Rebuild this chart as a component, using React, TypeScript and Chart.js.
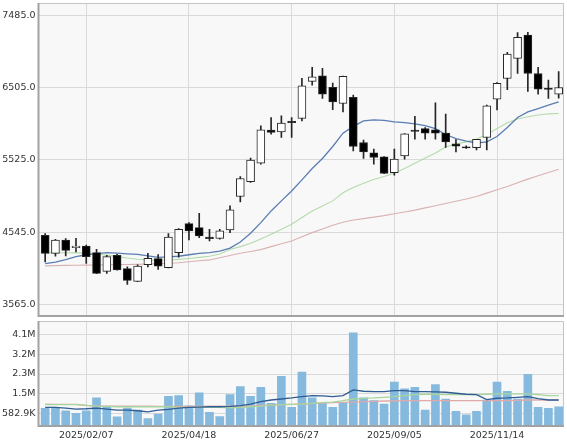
import React, { useEffect, useRef } from 'react';
import { Chart, registerables } from 'chart.js';

Chart.register(...registerables);

// ---- data ----
const dates = [
  '2025/01/10', '2025/01/17', '2025/01/24', '2025/01/31',
  '2025/02/07', '2025/02/14', '2025/02/21', '2025/02/28',
  '2025/03/07', '2025/03/14', '2025/03/21', '2025/03/28',
  '2025/04/04', '2025/04/11', '2025/04/18', '2025/04/25',
  '2025/05/02', '2025/05/09', '2025/05/16', '2025/05/23', '2025/05/30',
  '2025/06/06', '2025/06/13', '2025/06/20', '2025/06/27',
  '2025/07/04', '2025/07/11', '2025/07/18', '2025/07/25',
  '2025/08/01', '2025/08/08', '2025/08/15', '2025/08/22', '2025/08/29',
  '2025/09/05', '2025/09/12', '2025/09/19', '2025/09/26',
  '2025/10/03', '2025/10/10', '2025/10/17', '2025/10/24', '2025/10/31',
  '2025/11/07', '2025/11/14', '2025/11/21', '2025/11/28',
  '2025/12/05', '2025/12/12', '2025/12/19', '2025/12/26',
];

const labelIndices = [4, 14, 24, 34, 44];

const opens = [
  4504, 4259, 4440, 4336, 4359, 4268, 4015, 4232, 4051, 3879,
  4105, 4187, 4065, 4268, 4662, 4607, 4478, 4463, 4576, 5029,
  5232, 5481, 5929, 5906, 6048, 6087, 6589, 6666, 6508, 6290,
  6372, 5761, 5621, 5567, 5354, 5580, 5930, 5951, 5933, 5888,
  5745, 5702, 5693, 5829, 6349, 6629, 6901, 7217, 6697, 6500,
  6417,
];
const highs = [
  4526, 4449, 4458, 4463, 4372, 4314, 4232, 4246, 4078, 4105,
  4259, 4241, 4526, 4594, 4675, 4802, 4585, 4585, 4902, 5300,
  5549, 5987, 6100, 6123, 6100, 6630, 6779, 6765, 6566, 6662,
  6403, 5793, 5671, 5570, 5671, 5882, 6115, 5965, 6300, 6146,
  5800, 5715, 5806, 6268, 6575, 6982, 7250, 7254, 6779, 6607,
  6724,
];
const lows = [
  4142, 4220, 4223, 4277, 4124, 3985, 3988, 4030, 3839, 3876,
  4074, 4042, 4062, 4209, 4440, 4472, 4427, 4450, 4540, 4956,
  5219, 5467, 5874, 5829, 5829, 6055, 6539, 6358, 6205, 6177,
  5648, 5544, 5467, 5338, 5318, 5535, 5806, 5806, 5806, 5694,
  5635, 5680, 5661, 5661, 6204, 6476, 6697, 6453, 6417, 6358,
  6363,
];
const closes = [
  4259, 4440, 4300, 4359, 4214, 3988, 4214, 4033, 3893, 4087,
  4191, 4087, 4481, 4585, 4562, 4494, 4458, 4563, 4848, 5273,
  5522, 5933, 5897, 6024, 6030, 6530, 6652, 6417, 6313, 6657,
  5707, 5635, 5558, 5341, 5535, 5879, 5912, 5888, 5888, 5770,
  5712, 5688, 5806, 6259, 6562, 6960, 7186, 6697, 6485, 6482,
  6507,
];

const priceMaShort = [
  4120, 4140, 4175, 4215, 4240, 4255, 4268, 4262, 4252, 4245,
  4225, 4205, 4210, 4220, 4240, 4259, 4268, 4290, 4330, 4413,
  4531, 4676, 4834, 4970, 5105, 5255, 5408, 5544, 5707, 5888,
  5980, 6055, 6069, 6060, 6040, 6030, 6015, 5990, 5950, 5870,
  5815, 5780, 5755, 5770, 5842, 5965, 6100, 6177, 6222, 6268,
  6313,
];
const priceMaMid = [
  4265, 4268, 4268, 4265, 4262, 4250, 4235, 4215, 4195, 4180,
  4170, 4165, 4168, 4178, 4190, 4205, 4220, 4250, 4310, 4350,
  4395, 4455, 4517, 4585, 4653, 4745, 4834, 4900, 4970, 5080,
  5150, 5210, 5260, 5300, 5345, 5410, 5480, 5550, 5620, 5700,
  5740, 5770, 5810, 5870, 5950, 6030, 6080, 6110, 6135, 6150,
  6155,
];
const priceMaLong = [
  4090, 4093, 4096, 4098, 4100, 4102, 4104, 4106, 4108, 4110,
  4115, 4120, 4125, 4132, 4145, 4158, 4170, 4200, 4230, 4260,
  4285, 4310, 4350, 4390, 4427, 4485, 4540, 4590, 4640, 4680,
  4710, 4730, 4750, 4770, 4795, 4820, 4845, 4875, 4905, 4935,
  4965, 4995, 5030, 5075, 5120, 5165, 5215, 5265, 5310, 5355,
  5400,
];

const volumes = [
  792000, 838000, 687000, 566000, 687000, 1265000, 838000, 414000, 808000, 717000,
  338000, 535000, 1338000, 1368000, 914000, 1490000, 611000, 429000, 1414000, 1778000,
  1338000, 1747000, 1020000, 2233000, 838000, 2430000, 1265000, 1020000, 838000, 1020000,
  4204000, 1265000, 1143000, 990000, 1975000, 1672000, 1747000, 717000, 1869000, 1217000,
  656000, 505000, 656000, 1171000, 1975000, 1566000, 1217000, 2324000, 838000, 792000,
  868000,
];
const volumeMaShort = [
  838000, 838000, 808000, 762000, 777000, 808000, 762000, 717000, 717000, 687000,
  641000, 717000, 747000, 808000, 838000, 853000, 868000, 868000, 884000, 914000,
  990000, 1096000, 1171000, 1217000, 1263000, 1323000, 1369000, 1354000, 1323000, 1369000,
  1627000, 1566000, 1551000, 1551000, 1596000, 1596000, 1551000, 1551000, 1536000, 1521000,
  1475000, 1430000, 1410000, 1190000, 1250000, 1263000, 1290000, 1323000, 1230000, 1171000,
  1171000,
];
const volumeMaMid = [
  959000, 959000, 959000, 959000, 929000, 899000, 884000, 868000, 868000, 868000,
  868000, 868000, 868000, 838000, 838000, 838000, 838000, 838000, 823000, 838000,
  868000, 899000, 944000, 959000, 975000, 990000, 1020000, 1050000, 1080000, 1141000,
  1217000, 1247000, 1263000, 1293000, 1323000, 1369000, 1414000, 1430000, 1430000, 1414000,
  1414000, 1414000, 1414000, 1430000, 1445000, 1445000, 1445000, 1445000, 1414000, 1369000,
  1369000,
];
const volumeMaLong = [
  990000, 975000, 975000, 975000, 929000, 899000, 899000, 899000, 899000, 899000,
  899000, 884000, 884000, 884000, 884000, 884000, 899000, 899000, 899000, 899000,
  899000, 929000, 944000, 959000, 975000, 990000, 1005000, 1035000, 1050000, 1065000,
  1080000, 1095000, 1110000, 1126000, 1126000, 1141000, 1141000, 1141000, 1141000, 1141000,
  1141000, 1141000, 1141000, 1141000, 1141000, 1141000, 1156000, 1171000, 1171000, 1171000,
  1171000,
];

const priceTicks = [3565, 4545, 5525, 6505, 7485];
const volumeTicks = [582900, 1462500, 2342100, 3221700, 4101300];

// ---- styling ----
const FONT = { family: '"DejaVu Sans", Verdana, sans-serif', size: 9.5 };
const GRID = '#d9d9d9';
const TEXT = '#333333';
const X_MIN = -0.65;
const X_MAX = 50.52;

const framePlugin = {
  id: 'frame',
  beforeDraw(chart: any) {
    const { ctx, chartArea: a } = chart;
    ctx.save();
    ctx.fillStyle = '#f8f8f8';
    ctx.fillRect(a.left, a.top, a.right - a.left, a.bottom - a.top);
    ctx.restore();
  },
  afterDraw(chart: any) {
    const { ctx, chartArea: a } = chart;
    ctx.save();
    ctx.strokeStyle = '#c4c4c4';
    ctx.lineWidth = 1;
    ctx.beginPath();
    ctx.moveTo(a.left, a.top + 0.5);
    ctx.lineTo(a.right - 0.5, a.top + 0.5);
    ctx.lineTo(a.right - 0.5, a.bottom);
    ctx.stroke();
    ctx.strokeStyle = '#a2a2a2';
    ctx.lineWidth = 2;
    ctx.beginPath();
    ctx.moveTo(a.left, a.top);
    ctx.lineTo(a.left, a.bottom);
    ctx.lineTo(a.right, a.bottom);
    ctx.stroke();
    ctx.restore();
  },
};

const zeroPad = (s: any) => {
  s.paddingTop = 0;
  s.paddingBottom = 0;
  s.paddingLeft = 0;
  s.paddingRight = 0;
};

const toXY = (arr: number[]) => arr.map((y, x) => ({ x, y }));

function lineDs(data: number[], color: string, width: number) {
  return {
    type: 'line' as const,
    data: toXY(data),
    borderColor: color,
    borderWidth: width,
    pointRadius: 0,
    tension: 0,
    order: 5,
  };
}

function xAxis(showLabels: boolean) {
  return {
    type: 'linear' as const,
    min: X_MIN,
    max: X_MAX,
    offset: false,
    afterBuildTicks: (s: any) => {
      s.ticks = labelIndices.map((v) => ({ value: v }));
    },
    afterFit: (s: any) => {
      s.height = showLabels ? 16 : 0;
      zeroPad(s);
    },
    ticks: {
      display: showLabels,
      autoSkip: false,
      maxRotation: 0,
      color: TEXT,
      font: FONT,
      padding: 4,
      callback: (v: any) => dates[Number(v)] ?? '',
    },
    grid: { color: GRID, drawTicks: false, offset: false },
    border: { display: false },
  };
}

function yAxis(min: number, max: number, ticks: number[], fmt: (v: number) => string) {
  return {
    min,
    max,
    afterBuildTicks: (s: any) => {
      s.ticks = ticks.map((v) => ({ value: v }));
    },
    afterFit: (s: any) => {
      s.width = 38.5;
      zeroPad(s);
    },
    ticks: {
      color: TEXT,
      font: FONT,
      padding: 3,
      callback: (v: any) => fmt(Number(v)),
    },
    grid: { color: GRID, drawTicks: false },
    border: { display: false },
  };
}

function PriceChart() {
  const ref = useRef<HTMLCanvasElement>(null);
  useEffect(() => {
    const chart = new Chart(ref.current as HTMLCanvasElement, {
      type: 'bar',
      data: {
        datasets: [
          lineDs(priceMaShort, '#5a7db3', 1.3),
          lineDs(priceMaMid, '#b3dcaa', 1.1),
          lineDs(priceMaLong, '#dab2b2', 1.1),
          {
            type: 'bar',
            data: lows.map((l, i) => ({ x: i, y: [l, highs[i]] })),
            backgroundColor: '#262626',
            barThickness: 1,
            grouped: false,
            order: 2,
          } as any,
          {
            type: 'bar',
            data: opens.map((o, i) => ({ x: i, y: [o, closes[i]] })),
            backgroundColor: closes.map((c, i) => (c >= opens[i] ? '#ffffff' : '#000000')),
            borderColor: '#262626',
            borderWidth: 1,
            borderSkipped: false,
            barThickness: 8,
            grouped: false,
            order: 1,
          } as any,
        ],
      },
      options: {
        animation: false,
        responsive: false,
        devicePixelRatio: 1,
        layout: { padding: { top: 3, right: 3, bottom: 2, left: 0 } },
        plugins: { legend: { display: false }, tooltip: { enabled: false } },
        scales: {
          x: xAxis(false) as any,
          y: yAxis(3410, 7652, priceTicks, (v) => v.toFixed(1)) as any,
        },
      },
      plugins: [framePlugin],
    });
    return () => chart.destroy();
  }, []);
  return <canvas ref={ref} width={567} height={318} style={{ display: 'block' }} />;
}

function fmtVolume(v: number) {
  return v >= 1e6 ? (v / 1e6).toFixed(1) + 'M' : (v / 1e3).toFixed(1) + 'K';
}

function VolumeChart() {
  const ref = useRef<HTMLCanvasElement>(null);
  useEffect(() => {
    const chart = new Chart(ref.current as HTMLCanvasElement, {
      type: 'bar',
      data: {
        datasets: [
          lineDs(volumeMaShort, '#2f5d94', 1.3),
          lineDs(volumeMaMid, '#a6d59d', 1.3),
          lineDs(volumeMaLong, '#e0a9a9', 1.3),
          {
            type: 'bar',
            data: toXY(volumes),
            backgroundColor: '#85b9de',
            barThickness: 8,
            grouped: false,
            order: 6,
          } as any,
        ],
      },
      options: {
        animation: false,
        responsive: false,
        devicePixelRatio: 1,
        layout: { padding: { top: 3, right: 3, bottom: 0, left: 0 } },
        plugins: { legend: { display: false }, tooltip: { enabled: false } },
        scales: {
          x: xAxis(true) as any,
          y: yAxis(0, 4732000, volumeTicks, fmtVolume) as any,
        },
      },
      plugins: [framePlugin],
    });
    return () => chart.destroy();
  }, []);
  return <canvas ref={ref} width={567} height={124} style={{ display: 'block' }} />;
}

export default function App() {
  return (
    <div
      style={{
        position: 'absolute',
        left: 0,
        top: 0,
        width: 567,
        height: 442,
        background: '#ffffff',
        overflow: 'hidden',
      }}
    >
      <PriceChart />
      <VolumeChart />
    </div>
  );
}
